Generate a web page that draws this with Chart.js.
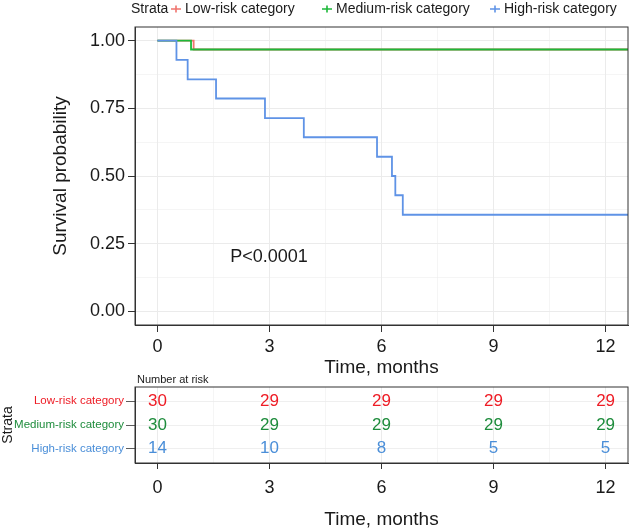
<!DOCTYPE html>
<html>
<head>
<meta charset="utf-8">
<script src="https://cdn.jsdelivr.net/npm/chart.js@4.4.1/dist/chart.umd.min.js"></script>
<style>
  html, body { margin: 0; padding: 0; background: #fff; }
  #wrap { position: relative; width: 631px; height: 532px; }
  #survWrap { position: absolute; left: 0; top: 0; width: 631px; height: 380px; }
  #riskWrap { position: absolute; left: 0; top: 365px; width: 631px; height: 167px; }
</style>
</head>
<body>
<div id="wrap">
  <div id="survWrap"><canvas id="survChart"></canvas></div>
  <div id="riskWrap"><canvas id="riskChart"></canvas></div>
</div>
<script>
const strata = ['Low-risk category', 'Medium-risk category', 'High-risk category']
const lineColors = ['#f0746e', '#1db83a', '#5f93e6']
const tableColors = ['#ee1c25', '#1e8c3c', '#4a8ed8']

// Kaplan-Meier steps
const lowTime = [0, 0.97, 13]
const lowSurv = [1, 0.967, 0.967]
const mediumTime = [0, 0.9, 13]
const mediumSurv = [1, 0.967, 0.967]
const highTime = [0, 0.51, 0.81, 1.57, 2.88, 3.92, 5.88, 6.28, 6.37, 6.57, 13]
const highSurv = [1, 0.929, 0.857, 0.786, 0.714, 0.643, 0.571, 0.5, 0.429, 0.357, 0.357]

const timeTicks = [0, 3, 6, 9, 12]
const survTicks = [0, 0.25, 0.5, 0.75, 1]

// number at risk table
const riskTimes = [0, 3, 6, 9, 12]
const lowAtRisk = [30, 29, 29, 29, 29]
const mediumAtRisk = [30, 29, 29, 29, 29]
const highAtRisk = [14, 10, 8, 5, 5]

const pValueText = 'P<0.0001'
const pValueAt = [1.95, 0.2]

const FONT = '"Liberation Sans", Arial, Helvetica, sans-serif'
const INK = '#1a1a1a'
const AXIS = '#333333'
const GRID = '#ebebeb'

Chart.defaults.font.family = FONT
Chart.defaults.color = INK

function withMinor(major) {
    const out = []
    major.forEach((v, i) => {
        out.push(v)
        if (i < major.length - 1) out.push((v + major[i + 1]) / 2)
    })
    return out
}

function gridAxis(major, fmt) {
    return {
        afterBuildTicks: s => { s.ticks = withMinor(major).map(v => ({ value: v })) },
        ticks: {
            autoSkip: false,
            maxRotation: 0,
            callback: v => major.includes(v) ? fmt(v) : ''
        },
        grid: {
            color: GRID,
            lineWidth: c => (c.tick && major.includes(c.tick.value)) ? 1 : 0.5,
            tickColor: c => (c.tick && major.includes(c.tick.value)) ? AXIS : 'rgba(0,0,0,0)',
            tickLength: 7
        },
        border: { color: AXIS, width: 1 }
    }
}

const framePlugin = {
    id: 'frame',
    afterDraw(chart) {
        const { ctx, chartArea: a } = chart
        ctx.save()
        ctx.strokeStyle = AXIS
        ctx.lineWidth = 1
        ctx.strokeRect(a.left, a.top, a.right - a.left, a.bottom - a.top)
        ctx.restore()
    }
}

const legendPlugin = {
    id: 'strataLegend',
    afterDraw(chart) {
        const ctx = chart.ctx
        const y = 9
        const keyX = [171, 322, 490]
        ctx.save()
        ctx.font = '14px ' + FONT
        ctx.textBaseline = 'middle'
        ctx.textAlign = 'left'
        ctx.fillStyle = INK
        ctx.fillText('Strata', 131, y)
        strata.forEach((name, i) => {
            const x = keyX[i]
            ctx.strokeStyle = lineColors[i]
            ctx.lineWidth = 1.6
            ctx.beginPath()
            ctx.moveTo(x, y); ctx.lineTo(x + 10, y)
            ctx.moveTo(x + 5, y - 3.5); ctx.lineTo(x + 5, y + 3.5)
            ctx.stroke()
            ctx.fillStyle = INK
            ctx.fillText(name, x + 14, y)
        })
        ctx.restore()
    }
}

const pValuePlugin = {
    id: 'pValue',
    afterDatasetsDraw(chart) {
        const { ctx, scales } = chart
        ctx.save()
        ctx.font = '18px ' + FONT
        ctx.fillStyle = INK
        ctx.textAlign = 'left'
        ctx.textBaseline = 'middle'
        ctx.fillText(pValueText, scales.x.getPixelForValue(pValueAt[0]), scales.y.getPixelForValue(pValueAt[1]))
        ctx.restore()
    }
}

function curve(label, times, surv, color, order) {
    return {
        label: label,
        data: times.map((t, i) => ({ x: t, y: surv[i] })),
        borderColor: color,
        backgroundColor: color,
        borderWidth: 1.8,
        stepped: true,
        pointRadius: 0,
        fill: false,
        order: order
    }
}

const survX = gridAxis(timeTicks, v => String(v))
survX.type = 'linear'
survX.min = -0.6
survX.max = 12.6
survX.afterFit = s => { s.height = 55 }
survX.ticks.font = { size: 18 }
survX.ticks.padding = 4
survX.title = { display: true, text: 'Time, months', font: { size: 19 }, color: INK, padding: { top: 0, bottom: 1 } }

const survY = gridAxis(survTicks, v => v.toFixed(2))
survY.min = -0.05
survY.max = 1.05
survY.afterFit = s => { s.width = 88 }
survY.ticks.font = { size: 18 }
survY.ticks.padding = 3
survY.title = { display: true, text: 'Survival probability', font: { size: 19 }, color: INK, padding: { top: 2, bottom: 0 } }

new Chart(document.getElementById('survChart'), {
    type: 'line',
    data: {
        datasets: [
            curve(strata[0], lowTime, lowSurv, lineColors[0], 2),
            curve(strata[1], mediumTime, mediumSurv, lineColors[1], 1),
            curve(strata[2], highTime, highSurv, lineColors[2], 0)
        ]
    },
    options: {
        responsive: true,
        maintainAspectRatio: false,
        animation: false,
        events: [],
        layout: { padding: { top: 27, left: 47, right: 3, bottom: 0 } },
        scales: { x: survX, y: survY },
        plugins: { legend: { display: false }, tooltip: { enabled: false } }
    },
    plugins: [framePlugin, legendPlugin, pValuePlugin]
})

// risk table
const riskCounts = [lowAtRisk, mediumAtRisk, highAtRisk]

const riskTextPlugin = {
    id: 'riskText',
    afterDatasetsDraw(chart) {
        const ctx = chart.ctx
        ctx.save()
        ctx.font = '17px ' + FONT
        ctx.textAlign = 'center'
        ctx.textBaseline = 'middle'
        chart.data.datasets.forEach((ds, di) => {
            const meta = chart.getDatasetMeta(di)
            meta.data.forEach((el, i) => {
                ctx.fillStyle = ds.textColor
                ctx.fillText(String(ds.counts[i]), el.x, el.y)
            })
        })
        ctx.font = '11px ' + FONT
        ctx.fillStyle = INK
        ctx.textAlign = 'left'
        ctx.textBaseline = 'alphabetic'
        ctx.fillText('Number at risk', chart.chartArea.left + 2, chart.chartArea.top - 4)
        ctx.restore()
    }
}

const riskX = gridAxis(timeTicks, v => String(v))
riskX.type = 'linear'
riskX.min = -0.6
riskX.max = 12.6
riskX.afterFit = s => { s.height = 69 }
riskX.ticks.font = { size: 18 }
riskX.ticks.padding = 8
riskX.grid.tickLength = 6
riskX.title = { display: true, text: 'Time, months', font: { size: 19 }, color: INK, padding: { top: 0, bottom: 1 } }

const riskRows = [1, 2, 3]
const riskY = {
    type: 'linear',
    min: 0.4,
    max: 3.6,
    reverse: true,
    afterBuildTicks: s => { s.ticks = riskRows.map(v => ({ value: v })) },
    afterFit: s => { s.width = 135 },
    ticks: {
        autoSkip: false,
        padding: 2,
        font: { size: 11.5 },
        color: c => tableColors[riskRows.indexOf(c.tick.value)],
        callback: v => strata[riskRows.indexOf(v)]
    },
    grid: { color: GRID, lineWidth: 0.8, tickColor: AXIS, tickLength: 9 },
    border: { color: AXIS, width: 1 },
    title: { display: true, text: 'Strata', font: { size: 14 }, color: INK, padding: { top: 0, bottom: 0 } }
}

new Chart(document.getElementById('riskChart'), {
    type: 'scatter',
    data: {
        datasets: riskCounts.map((counts, r) => ({
            label: strata[r],
            data: riskTimes.map(t => ({ x: t, y: riskRows[r] })),
            counts: counts,
            textColor: tableColors[r],
            pointRadius: 0,
            showLine: false
        }))
    },
    options: {
        responsive: true,
        maintainAspectRatio: false,
        animation: false,
        events: [],
        layout: { padding: { top: 22, left: 0, right: 3, bottom: 0 } },
        scales: { x: riskX, y: riskY },
        plugins: { legend: { display: false }, tooltip: { enabled: false } }
    },
    plugins: [framePlugin, riskTextPlugin]
})
</script>
</body>
</html>
